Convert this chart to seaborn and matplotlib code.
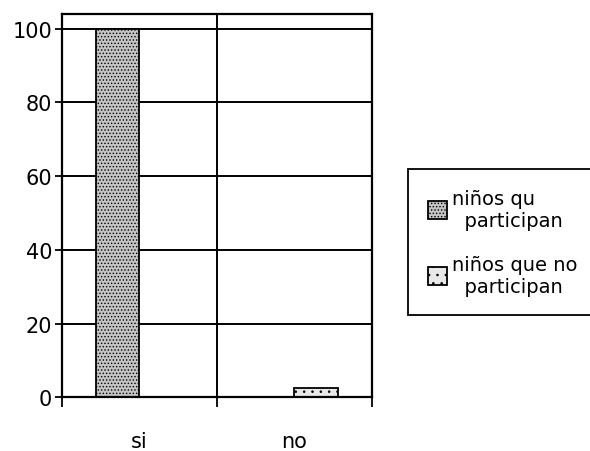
import matplotlib
matplotlib.use('Agg')
import matplotlib.pyplot as plt
import seaborn as sns
import pandas as pd

# values
categories = ['si', 'no']
participan = [100, 0]
no_participan = [0, 2.5]
series_names = ['niños qu\n  participan', 'niños que no\n  participan']

data = pd.DataFrame({
    'respuesta': categories * 2,
    'valor': participan + no_participan,
    'grupo': [series_names[0]] * 2 + [series_names[1]] * 2,
})

sns.set_style('white')
plt.rcParams['font.family'] = ['DejaVu Sans']
plt.rcParams['hatch.linewidth'] = 0.6
plt.rcParams['text.color'] = 'black'
plt.rcParams['xtick.color'] = 'black'
plt.rcParams['ytick.color'] = 'black'

fig = plt.figure(figsize=(5.9, 4.52), dpi=100)
ax = fig.add_axes([0.105, 0.119, 0.525, 0.848])

colors = ['#c4c4c4', '#e8e8e8']
hatches = ['.....', '..']

sns.barplot(data=data, x='respuesta', y='valor', hue='grupo', order=categories,
            hue_order=series_names, palette=colors,
            width=0.56, edgecolor='black', linewidth=1.3, ax=ax)

for cont, h in zip(ax.containers, hatches):
    for bar in cont:
        bar.set_hatch(h)

ax.set_ylim(0, 104)
ax.set_xlim(-0.5, 1.5)
ax.set_yticks([0, 20, 40, 60, 80, 100])
ax.yaxis.grid(True, color='black', linewidth=1.4)
ax.axvline(0.5, color='black', linewidth=1.4, zorder=0.5)
ax.set_axisbelow(True)

for s in ax.spines.values():
    s.set_color('black')
    s.set_linewidth(1.6)

ax.tick_params(axis='y', direction='out', length=5, width=1.3, color='black',
               left=True, labelsize=15, pad=2, labelcolor='black')
ax.tick_params(axis='x', which='major', length=0, labelsize=15, pad=24,
               labelcolor='black')
ax.set_xticks([-0.5, 0.5, 1.5], minor=True)
ax.tick_params(axis='x', which='minor', direction='out', length=7, width=1.3,
               color='black', bottom=True)
ax.set_xlabel('')
ax.set_ylabel('')

handles, labels = ax.get_legend_handles_labels()
for hd, h in zip(handles, hatches):
    hd.set_hatch(h)
    hd.set_edgecolor('black')
leg = ax.legend(handles, labels, loc='center left', bbox_to_anchor=(0.692, 0.462),
                bbox_transform=fig.transFigure, frameon=True, fancybox=False,
                edgecolor='black', fontsize=14, handlelength=1.0, handleheight=1.0,
                handletextpad=0.25, labelspacing=1.3, borderpad=1.0,
                borderaxespad=0, framealpha=1)
leg.get_frame().set_linewidth(1.3)
for t in leg.get_texts():
    t.set_color('black')

fig.savefig('out.png', dpi=100)
